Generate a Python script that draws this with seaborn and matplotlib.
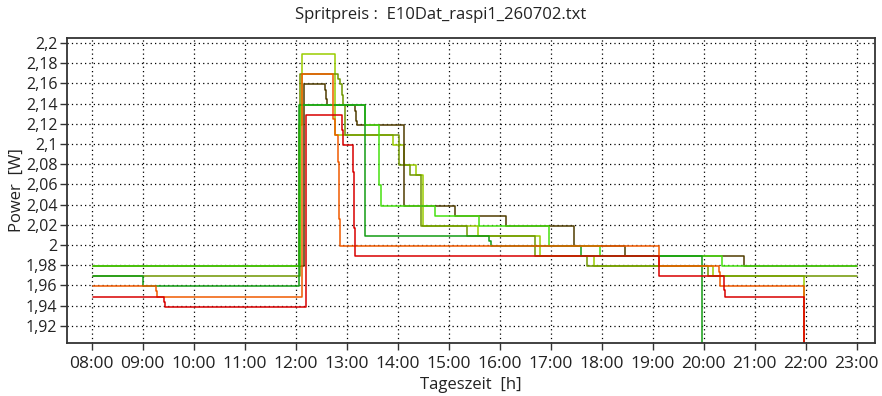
import matplotlib
matplotlib.use("Agg")
import matplotlib.pyplot as plt
import numpy as np
import pandas as pd
import seaborn as sns
from matplotlib.ticker import FuncFormatter, FixedLocator

# ---------------- data ----------------
station_names = ["S1", "S2", "S3", "S4", "S5", "S6", "S7"]
station_colors = ["#9acd00", "#6f9600", "#4f3c00", "#46e010", "#149c14", "#f05a00", "#d80000"]

s1_times = ["08:02", "12:04", "12:07", "12:46", "13:54", "14:07", "14:22", "14:30", "15:35", "16:47", "17:51", "20:11", "21:58", "21:59"]
s1_prices = [1.979, 2.119, 2.189, 2.109, 2.099, 2.079, 2.069, 2.019, 2.009, 1.989, 1.979, 1.969, 1.80, 1.80]

s2_times = ["08:02", "12:05", "12:50", "12:52", "12:54", "12:56", "12:58", "14:01", "14:14", "14:28", "15:21", "16:41", "17:43", "20:05", "23:00"]
s2_prices = [1.969, 2.169, 2.164, 2.159, 2.149, 2.139, 2.109, 2.079, 2.069, 2.019, 2.009, 1.989, 1.979, 1.969, 1.969]

s3_times = ["08:02", "12:10", "12:35", "12:36", "12:37", "13:10", "13:11", "13:12", "14:07", "15:07", "16:07", "17:28", "18:27", "20:47", "23:00"]
s3_prices = [1.979, 2.159, 2.154, 2.145, 2.139, 2.133, 2.123, 2.119, 2.039, 2.029, 2.019, 1.999, 1.989, 1.979, 1.979]

s4_times = ["08:02", "12:05", "13:21", "13:22", "13:38", "13:40", "14:44", "15:36", "16:58", "17:58", "20:22", "23:00"]
s4_prices = [1.979, 2.139, 2.129, 2.119, 2.059, 2.039, 2.029, 2.019, 1.999, 1.989, 1.979, 1.979]

s5_times = ["08:02", "09:00", "12:04", "13:21", "13:22", "15:48", "15:50", "17:36", "19:58", "19:59"]
s5_prices = [1.969, 1.959, 2.139, 2.074, 2.009, 2.004, 1.999, 1.989, 1.80, 1.80]

s6_times = ["08:02", "09:16", "09:17", "12:07", "12:44", "12:46", "12:50", "12:51", "12:52", "19:07", "20:18", "20:19", "21:58", "21:59"]
s6_prices = [1.959, 1.954, 1.949, 2.169, 2.125, 2.109, 2.082, 2.026, 1.999, 1.979, 1.973, 1.959, 1.80, 1.80]

s7_times = ["08:02", "09:25", "09:26", "12:12", "12:55", "12:56", "13:07", "13:08", "13:10", "19:07", "20:24", "20:25", "21:58", "21:59"]
s7_prices = [1.949, 1.944, 1.939, 2.129, 2.114, 2.099, 2.072, 2.017, 1.989, 1.969, 1.955, 1.949, 1.80, 1.80]

x_tick_hours = list(range(8, 24))
x_tick_labels = [f"{h:02d}:00" for h in x_tick_hours]
y_tick_values = [1.92, 1.94, 1.96, 1.98, 2.00, 2.02, 2.04, 2.06, 2.08, 2.10, 2.12, 2.14, 2.16, 2.18, 2.20]


def to_hours(s):
    h, m = s.split(":")
    return int(h) + int(m) / 60.0


series = [
    (station_names[0], s1_times, s1_prices),
    (station_names[1], s2_times, s2_prices),
    (station_names[2], s3_times, s3_prices),
    (station_names[3], s4_times, s4_prices),
    (station_names[4], s5_times, s5_prices),
    (station_names[5], s6_times, s6_prices),
    (station_names[6], s7_times, s7_prices),
]
frames = []
for name, times, prices in series:
    frames.append(pd.DataFrame({"t": [to_hours(x) for x in times], "price": prices, "station": name}))
df = pd.concat(frames, ignore_index=True)

# ---------------- plot ----------------
sns.set_theme(style="white")
plt.rcParams["font.family"] = ["Open Sans", "DejaVu Sans"]

W, H = 882, 396
fig, ax = plt.subplots(figsize=(W / 100, H / 100), dpi=100)
fig.subplots_adjust(left=67 / W, right=875 / W, top=1 - 38 / H, bottom=1 - 343 / H)

sns.lineplot(
    data=df, x="t", y="price", hue="station", hue_order=station_names,
    palette=dict(zip(station_names, station_colors)),
    drawstyle="steps-post", estimator=None, sort=False,
    linewidth=1.1, legend=False, ax=ax,
)

ax.set_xlim(7.515, 23.36)
ax.set_ylim(1.903, 2.205)

ax.xaxis.set_major_locator(FixedLocator(x_tick_hours))
ax.set_xticklabels(x_tick_labels)
ax.yaxis.set_major_locator(FixedLocator(y_tick_values))


def yfmt(v, pos):
    s = f"{v:.2f}".rstrip("0").rstrip(".")
    return s.replace(".", ",")


ax.yaxis.set_major_formatter(FuncFormatter(yfmt))

ax.grid(True, color="black", linestyle=(0, (1, 2.5)), linewidth=0.9)
ax.set_axisbelow(True)

for sp in ax.spines.values():
    sp.set_color("#333333")
    sp.set_linewidth(1.3)

ax.tick_params(axis="both", which="major", bottom=True, left=True, direction="out",
               length=5, width=1, color="#333333", labelcolor="#222222")
ax.tick_params(axis="x", labelsize=12.5, pad=4)
ax.tick_params(axis="y", labelsize=11.5, pad=2)

ax.set_xlabel("Tageszeit  [h]", fontsize=12, color="#222222", labelpad=4)
ax.set_ylabel("Power  [W]", fontsize=12, color="#222222", labelpad=1)
fig.suptitle("Spritpreis :  E10Dat_raspi1_260702.txt", x=0.5, y=1 - 15 / H, va="center",
             fontsize=12, color="#222222")

fig.savefig("out.png", dpi=100)
